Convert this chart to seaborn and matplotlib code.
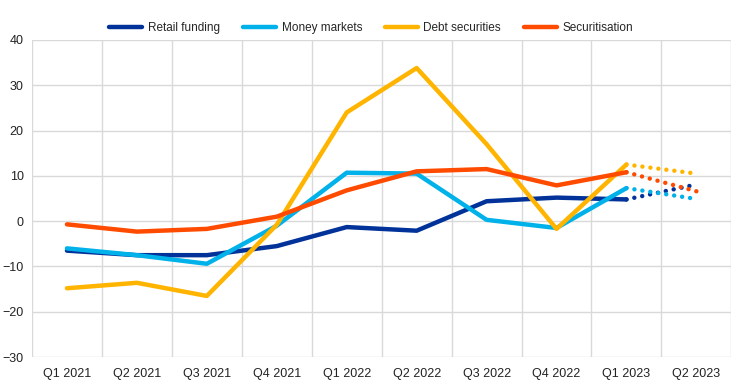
import numpy as np
import pandas as pd
import matplotlib
matplotlib.use("Agg")
import matplotlib.pyplot as plt
import seaborn as sns

# Datos del gráfico
quarters = ["Q1 2021", "Q2 2021", "Q3 2021", "Q4 2021", "Q1 2022",
            "Q2 2022", "Q3 2022", "Q4 2022", "Q1 2023", "Q2 2023"]
series_names = ["Retail funding", "Money markets", "Debt securities", "Securitisation"]

retail_funding = [-6.5, -7.5, -7.5, -5.5, -1.3, -2.1, 4.4, 5.2, 4.8]
money_markets = [-6.0, -7.5, -9.4, -1.0, 10.7, 10.5, 0.3, -1.5, 7.3]
debt_securities = [-14.8, -13.6, -16.5, -0.8, 24.0, 33.8, 17.0, -1.7, 12.5]
securitisation = [-0.7, -2.3, -1.7, 1.0, 6.8, 11.0, 11.5, 7.9, 10.8]

# Expectativas (Q1 2023 -> Q2 2023, línea punteada)
retail_funding_exp = [4.8, 8.1]
money_markets_exp = [7.3, 4.9]
debt_securities_exp = [12.5, 10.5]
securitisation_exp = [10.8, 6.6]

colors = ["#003299", "#00B1EA", "#FFB400", "#FF4B00"]

# Construir tablas largas
actual = {"Retail funding": retail_funding, "Money markets": money_markets,
          "Debt securities": debt_securities, "Securitisation": securitisation}
expected = {"Retail funding": retail_funding_exp, "Money markets": money_markets_exp,
            "Debt securities": debt_securities_exp, "Securitisation": securitisation_exp}

rows = []
for name, vals in actual.items():
    for i, v in enumerate(vals):
        rows.append({"pos": i, "value": v, "series": name})
df_actual = pd.DataFrame(rows)

rows = []
for name, vals in expected.items():
    for i, v in enumerate(vals):
        rows.append({"pos": len(quarters) - 2 + i, "value": v, "series": name})
df_exp = pd.DataFrame(rows)

sns.set_style("white")
plt.rcParams["font.family"] = ["Liberation Sans", "DejaVu Sans"]

fig = plt.figure(figsize=(7.44, 3.84), dpi=100)
ax = fig.add_axes([0.043, 0.07, 0.940, 0.826])

palette = dict(zip(series_names, colors))

# Parte esperada (punteada)
for name in series_names:
    sub = df_exp[df_exp["series"] == name]
    sns.lineplot(data=sub, x="pos", y="value", color=palette[name], ax=ax,
                 linewidth=3.2, linestyle=(0, (0.01, 1.8)),
                 dash_capstyle="round", legend=False, zorder=2)

# Parte real (continua)
sns.lineplot(data=df_actual, x="pos", y="value", hue="series",
             hue_order=series_names, palette=palette, ax=ax,
             linewidth=3.2, zorder=3)

ax.set_xlim(-0.5, len(quarters) - 0.5)
ax.set_ylim(-30, 40)
ax.set_yticks(np.arange(-30, 41, 10))
ax.set_xticks(np.arange(len(quarters)))
ax.set_xticklabels(quarters)
ax.set_xticks(np.arange(-0.5, len(quarters), 1), minor=True)
ax.set_xlabel("")
ax.set_ylabel("")

ax.grid(False)
ax.yaxis.grid(True, color="#d9d9d9", linewidth=1)
ax.xaxis.grid(True, which="minor", color="#d9d9d9", linewidth=1)
ax.set_axisbelow(True)
for s in ax.spines.values():
    s.set_visible(False)
ax.tick_params(axis="both", which="both", length=0, labelsize=9, colors="#222222")
ax.tick_params(axis="x", pad=8)
ax.tick_params(axis="y", pad=6)

handles, labels = ax.get_legend_handles_labels()
ax.legend(handles, labels, loc="upper center", bbox_to_anchor=(0.485, 1.09),
          ncol=4, frameon=False, fontsize=8.5, handlelength=2.8,
          columnspacing=1.9, handletextpad=0.5)

fig.savefig("out.png", dpi=100)
